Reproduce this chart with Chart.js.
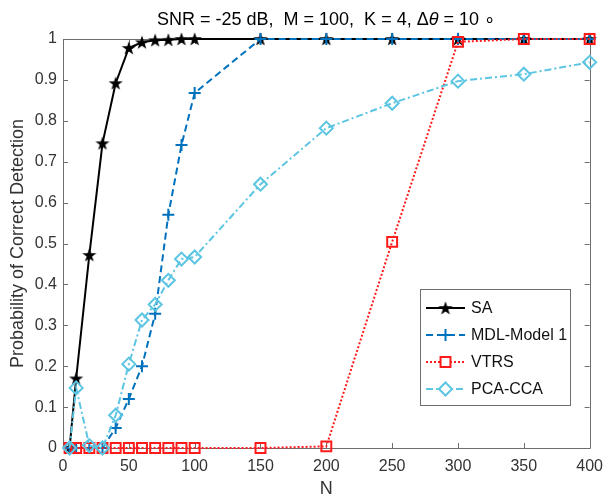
<!DOCTYPE html>
<html><head><meta charset="utf-8">
<script src="https://cdn.jsdelivr.net/npm/chart.js@4"></script>
<style>html,body{margin:0;padding:0;background:#fff}canvas{display:block}</style>
</head><body>
<canvas id="c" width="612" height="498"></canvas>
<script>
// ---- data ----
const N = [5,10,20,30,40,50,60,70,80,90,100,150,200,250,300,350,400];
const SA   = [0,0.170,0.472,0.745,0.892,0.978,0.992,0.997,0.998,1,1,1,1,1,1,1,1];
const MDL  = [0,0,0,0,0.049,0.120,0.200,0.328,0.570,0.741,0.868,1,1,1,1,1,1];
const VTRS = [0,0,0,0,0,0,0,0,0,0,0,0,0.004,0.504,0.993,1,1];
const PCA  = [0,0.147,0.006,0,0.080,0.205,0.313,0.351,0.410,0.462,0.467,0.645,0.782,0.843,0.897,0.914,0.943];
const seriesNames = ['SA','MDL-Model 1','VTRS','PCA-CCA'];
const xTicks = [0,50,100,150,200,250,300,350,400];
const yTicks = [0,0.1,0.2,0.3,0.4,0.5,0.6,0.7,0.8,0.9,1];
const yTickLabels = ['0','0.1','0.2','0.3','0.4','0.5','0.6','0.7','0.8','0.9','1'];
const titleText = ['SNR = -25 dB,  M = 100,  K = 4, \u0394', '\u03B8', ' = 10 \u2218'];
const xLabel = 'N';
const yLabel = 'Probability of Correct Detection';

const FONT = "'Liberation Sans', Arial, Helvetica, sans-serif";
const AXIS = '#6e6e6e';
const TXT = '#333333';

// filled five-pointed star marker
const star = document.createElement('canvas');
star.width = 16; star.height = 16;
(function(){
  const s = star.getContext('2d');
  s.fillStyle = '#000';
  s.beginPath();
  for (let i = 0; i < 10; i++) {
    const r = i % 2 ? 2.9 : 7.4;
    const a = -Math.PI / 2 + i * Math.PI / 5;
    s.lineTo(8 + r * Math.cos(a), 8.6 + r * Math.sin(a));
  }
  s.closePath(); s.fill();
})();

const pts = arr => N.map((n, i) => ({x: n, y: arr[i]}));

const datasets = [
  {label: seriesNames[0], data: pts(SA), borderColor: '#000', backgroundColor: '#000',
   borderWidth: 2, pointStyle: star, pointRadius: 7, order: 4},
  {label: seriesNames[1], data: pts(MDL), borderColor: '#0072BD', backgroundColor: '#0072BD',
   borderWidth: 2, borderDash: [7, 4], pointStyle: 'cross', pointRadius: 6, pointBorderWidth: 2, order: 3},
  {label: seriesNames[2], data: pts(VTRS), borderColor: '#ff1a1a', backgroundColor: 'rgba(0,0,0,0)',
   borderWidth: 2, borderDash: [2, 2], pointStyle: 'rect', pointRadius: 7, pointBorderWidth: 2, order: 2},
  {label: seriesNames[3], data: pts(PCA), borderColor: '#5CC5E2', backgroundColor: 'rgba(0,0,0,0)',
   borderWidth: 2, borderDash: [7, 3, 2, 3], pointStyle: 'rectRot', pointRadius: 6.5, pointBorderWidth: 2, order: 1}
];
datasets.forEach(d => { d.tension = 0; d.clip = false; d.fill = false; d.pointBorderColor = d.borderColor; d.pointBackgroundColor = d.backgroundColor; });

const framePlugin = {
  id: 'frame',
  beforeDatasetsDraw(chart) {
    const {ctx, chartArea: a, scales: {x, y}} = chart;
    ctx.save();
    ctx.strokeStyle = AXIS; ctx.lineWidth = 1;
    ctx.beginPath();
    ctx.rect(Math.round(a.left) + 0.5, Math.round(a.top) + 0.5, Math.round(a.right - a.left), Math.round(a.bottom - a.top));
    const L = 5;
    xTicks.forEach(v => {
      const px = Math.round(x.getPixelForValue(v)) + 0.5;
      ctx.moveTo(px, a.bottom); ctx.lineTo(px, a.bottom - L);
      ctx.moveTo(px, a.top); ctx.lineTo(px, a.top + L);
    });
    yTicks.forEach(v => {
      const py = Math.round(y.getPixelForValue(v)) + 0.5;
      ctx.moveTo(a.left, py); ctx.lineTo(a.left + L, py);
      ctx.moveTo(a.right, py); ctx.lineTo(a.right - L, py);
    });
    ctx.stroke();
    ctx.restore();
  },
  afterDraw(chart) {
    const {ctx, chartArea: a} = chart;
    ctx.save();
    // title
    ctx.fillStyle = '#000';
    ctx.textBaseline = 'middle';
    const f1 = '18px ' + FONT, f2 = 'italic 18px ' + FONT;
    ctx.font = f1; const w1 = ctx.measureText(titleText[0]).width, w3 = ctx.measureText(titleText[2]).width;
    ctx.font = f2; const w2 = ctx.measureText(titleText[1]).width;
    let tx = 326 - (w1 + w2 + w3) / 2;
    const ty = 20;
    ctx.textAlign = 'left';
    ctx.font = f1; ctx.fillText(titleText[0], tx, ty); tx += w1;
    ctx.font = f2; ctx.fillText(titleText[1], tx, ty); tx += w2;
    ctx.font = f1; ctx.fillText(titleText[2], tx, ty);
    // axis labels
    ctx.fillStyle = TXT;
    ctx.textAlign = 'center';
    ctx.font = '18px ' + FONT;
    ctx.fillText(xLabel, (a.left + a.right) / 2, 489);
    ctx.translate(18, (a.top + a.bottom) / 2);
    ctx.rotate(-Math.PI / 2);
    ctx.fillText(yLabel, 0, 0);
    ctx.restore();

    // legend
    ctx.save();
    const bx = 420.5, by = 289.5, bw = 150, bh = 116;
    ctx.fillStyle = '#fff';
    ctx.fillRect(bx, by, bw, bh);
    ctx.strokeStyle = AXIS; ctx.lineWidth = 1;
    ctx.strokeRect(bx, by, bw, bh);
    const rowsY = [308, 335, 362, 389];
    datasets.forEach((d, i) => {
      const yy = rowsY[i];
      ctx.save();
      ctx.strokeStyle = d.borderColor; ctx.lineWidth = d.borderWidth;
      ctx.setLineDash(d.borderDash || []);
      ctx.beginPath(); ctx.moveTo(426, yy); ctx.lineTo(465, yy); ctx.stroke();
      ctx.setLineDash([]);
      ctx.strokeStyle = d.borderColor; ctx.fillStyle = d.backgroundColor;
      if (d.pointStyle !== star) {
        ctx.fillStyle = '#fff';
        if (d.pointStyle === 'rect' || d.pointStyle === 'rectRot') {
          Chart.helpers.drawPoint(ctx, {pointStyle: d.pointStyle, radius: d.pointRadius, rotation: 0, borderWidth: 0}, 445.5, yy);
        }
        ctx.fillStyle = 'rgba(0,0,0,0)';
      }
      ctx.lineWidth = d.pointBorderWidth || 1;
      Chart.helpers.drawPoint(ctx, {pointStyle: d.pointStyle, radius: d.pointRadius, rotation: 0, borderWidth: d.pointBorderWidth || 1}, 445.5, yy);
      ctx.restore();
      ctx.fillStyle = '#111';
      ctx.font = '16px ' + FONT;
      ctx.textAlign = 'left'; ctx.textBaseline = 'middle';
      ctx.fillText(d.label, 471, yy + 1);
    });
    ctx.restore();
  }
};

new Chart(document.getElementById('c'), {
  type: 'line',
  data: {datasets},
  options: {
    responsive: false,
    devicePixelRatio: 1,
    animation: false,
    events: [],
    layout: {padding: {top: 39, right: 16, left: 0, bottom: 0}},
    plugins: {legend: {display: false}, title: {display: false}, tooltip: {enabled: false}},
    scales: {
      x: {
        type: 'linear', min: 0, max: 400,
        afterBuildTicks: s => { s.ticks = xTicks.map(v => ({value: v})); },
        afterFit: s => { s.height = 50; },
        grid: {display: false, drawTicks: false},
        border: {display: false},
        ticks: {font: {family: FONT, size: 16}, color: TXT, padding: 9, maxRotation: 0, autoSkip: false}
      },
      y: {
        type: 'linear', min: 0, max: 1,
        afterBuildTicks: s => { s.ticks = yTicks.map(v => ({value: v})); },
        afterFit: s => { s.width = 63; },
        grid: {display: false, drawTicks: false},
        border: {display: false},
        ticks: {font: {family: FONT, size: 16}, color: TXT, padding: 6, autoSkip: false,
                callback: (v, i) => yTickLabels[yTicks.indexOf(v)] ?? String(v)}
      }
    }
  },
  plugins: [framePlugin]
});
</script>
</body></html>
